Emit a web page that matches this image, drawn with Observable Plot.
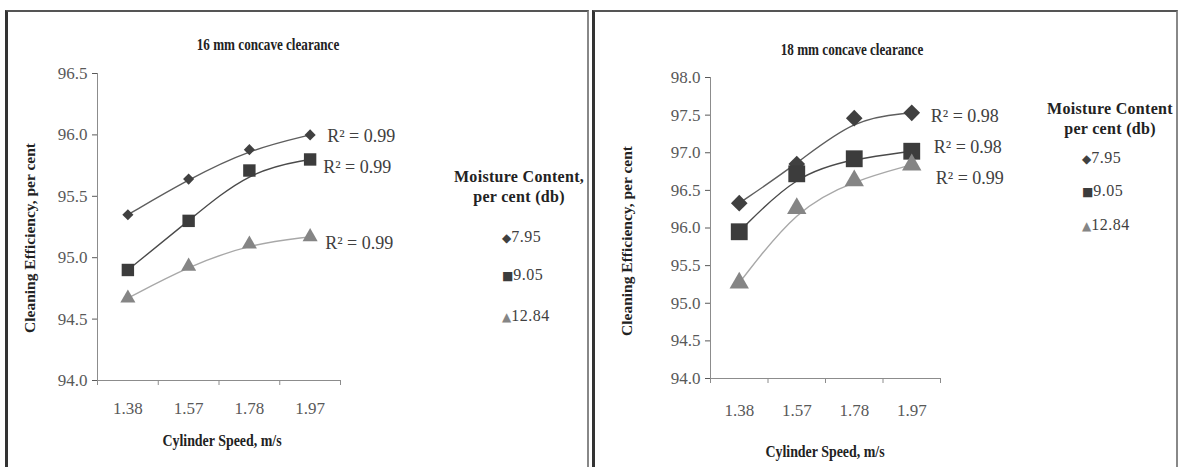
<!DOCTYPE html>
<html>
<head>
<meta charset="utf-8">
<script src="https://cdn.jsdelivr.net/npm/d3@7"></script>
<script src="https://cdn.jsdelivr.net/npm/@observablehq/plot@0.6"></script>
<style>
  html, body { margin: 0; padding: 0; background: #fff; }
  #page { position: relative; width: 1180px; height: 467px; overflow: hidden; background: #fff; font-family: "Liberation Serif", "DejaVu Serif", serif; }
  .panel { position: absolute; box-sizing: border-box; border-top: 2px solid #555; border-left: 3px solid #333; border-right: 2px solid #888; pointer-events: none; }
  .title { position: absolute; font-weight: bold; font-size: 16px; color: #222; white-space: nowrap; transform: translate(-50%, -50%) scaleX(0.82); }
  .xtitle { position: absolute; font-weight: bold; font-size: 16px; color: #222; white-space: nowrap; transform: translate(-50%, -50%) scaleX(0.87); }
  .ytitle { position: absolute; font-weight: bold; font-size: 15.5px; color: #222; white-space: nowrap; transform: translate(-50%, -50%) rotate(-90deg); }
  .leg { position: absolute; font-size: 16px; color: #404040; white-space: nowrap; transform: translate(0, -50%); letter-spacing: 0.5px; }
  .legt { position: absolute; font-weight: bold; font-size: 16px; letter-spacing: 0.3px; color: #222; white-space: nowrap; text-align: center; line-height: 20px; transform: translate(-50%, 0); }
  .sym { font-family: "DejaVu Sans", sans-serif; font-size: 12px; letter-spacing: 0; }
</style>
</head>
<body>
<div id="page"></div>
<script>
// ---- data ----
const speeds = ["1.38", "1.57", "1.78", "1.97"];
const moisture = ["7.95", "9.05", "12.84"];
const eff16_795 = [95.35, 95.64, 95.88, 96.00];
const eff16_905 = [94.90, 95.30, 95.71, 95.80];
const eff16_1284 = [94.67, 94.93, 95.11, 95.17];
const eff18_795 = [96.33, 96.85, 97.46, 97.53];
const eff18_905 = [95.95, 96.72, 96.92, 97.02];
const eff18_1284 = [95.27, 96.26, 96.63, 96.84];
const r2_16 = ["0.99", "0.99", "0.99"];
const r2_18 = ["0.98", "0.98", "0.99"];
const yTicks16 = [94.0, 94.5, 95.0, 95.5, 96.0, 96.5];
const yTicks18 = [94.0, 94.5, 95.0, 95.5, 96.0, 96.5, 97.0, 97.5, 98.0];

const page = document.getElementById("page");

const styles = [
  {symbol: "diamond2", fill: "#404040", line: "#5e5e5e"},
  {symbol: "square", fill: "#3c3c3c", line: "#4a4a4a"},
  {symbol: "triangle", fill: "#858585", line: "#a8a8a8"}
];

function rows(series) {
  const out = [];
  series.forEach((vals, s) => vals.forEach((v, i) => out.push({s, i, v, m: moisture[s]})));
  return out;
}

function panel(cfg) {
  const data = rows(cfg.series);
  const marks = [
    Plot.ruleX([-0.5], {stroke: "#8c8c8c"}),
    Plot.ruleY([cfg.yDomain[0]], {stroke: "#8c8c8c"}),
    Plot.axisY({ticks: cfg.yTicks, tickFormat: d => d.toFixed(1), tickSize: 5, tickPadding: 5, color: "#595959", fontSize: 17, label: null}),
    Plot.axisX({ticks: [-0.5, 0.5, 1.5, 2.5, 3.5], tickFormat: () => "", tickSize: 5, color: "#8c8c8c", label: null}),
    Plot.axisX({ticks: [0, 1, 2, 3], tickFormat: i => speeds[i], tickSize: 0, tickPadding: cfg.xPad, color: "#595959", fontSize: 17, label: null})
  ];
  styles.forEach((st, s) => {
    const d = data.filter(r => r.s === s);
    marks.push(Plot.line(d, {x: "i", y: "v", stroke: st.line, strokeWidth: 1.4, curve: "basis"}));
    marks.push(Plot.dot(d, {x: "i", y: "v", symbol: () => st.symbol, fill: st.fill, stroke: "none", r: cfg.r[s]}));
    const last = d.filter(r => r.i === 3);
    marks.push(Plot.text(last, {x: "i", y: "v", text: () => "R\u00B2 = " + cfg.r2[s], textAnchor: "start", dx: cfg.rdx[s], dy: cfg.rdy[s], fill: "#404040", fontSize: 18}));
  });
  const svg = Plot.plot({
    width: cfg.w, height: 467,
    marginLeft: cfg.ml, marginRight: cfg.w - cfg.xEnd, marginTop: cfg.yTop, marginBottom: 467 - cfg.yBot,
    x: {type: "linear", domain: [-0.5, 3.5]},
    y: {domain: cfg.yDomain},
    style: {fontFamily: "Liberation Serif, DejaVu Serif, serif", fontSize: "17px", background: "transparent", overflow: "visible"},
    marks
  });
  svg.style.position = "absolute";
  svg.style.left = cfg.left + "px";
  svg.style.top = "0px";
  page.appendChild(svg);
}

panel({left: 0, w: 590, ml: 97, xEnd: 340, yTop: 73, yBot: 380, yDomain: [94, 96.5], yTicks: yTicks16,
  series: [eff16_795, eff16_905, eff16_1284], r2: r2_16, r: [5, 7, 5.6], xPad: 21,
  rdx: [17, 13, 15], rdy: [1, 8, 6]});
panel({left: 592, w: 588, ml: 118, xEnd: 348, yTop: 77, yBot: 378, yDomain: [94, 98], yTicks: yTicks18,
  series: [eff18_795, eff18_905, eff18_1284], r2: r2_18, r: [7.5, 9.5, 7.2], xPad: 25,
  rdx: [19, 22, 24], rdy: [3, -4, 13]});

function el(cls, html, x, y) {
  const d = document.createElement("div");
  d.className = cls;
  d.innerHTML = html;
  d.style.left = x + "px";
  d.style.top = y + "px";
  page.appendChild(d);
  return d;
}
// titles
el("title", "16 mm concave clearance", 268, 45);
el("title", "18 mm concave clearance", 852, 50);
el("ytitle", "Cleaning Efficiency, per cent", 30, 238);
el("ytitle", "Cleaning Efficiency, per cent", 627, 241);
el("xtitle", "Cylinder Speed, m/s", 222, 441);
el("xtitle", "Cylinder Speed, m/s", 825, 452);
// legends
const glyph = ["\u25C6", "\u25A0", "\u25B2"];
const glyphColor = ["#404040", "#3c3c3c", "#858585"];
el("legt", "Moisture Content,<br>per cent (db)", 519, 167);
moisture.forEach((m, k) => el("leg", `<span class="sym" style="color:${glyphColor[k]}">${glyph[k]}</span>${m}`, 502, [237, 275, 316][k]));
el("legt", "Moisture Content<br>per cent (db)", 1110, 99);
moisture.forEach((m, k) => el("leg", `<span class="sym" style="color:${glyphColor[k]}">${glyph[k]}</span>${m}`, 1082, [158, 191, 225][k]));
// panel borders
const p1 = el("panel", "", 5, 10); p1.style.width = "584px"; p1.style.height = "470px";
const p2 = el("panel", "", 592, 10); p2.style.width = "586px"; p2.style.height = "470px";
</script>
</body>
</html>
